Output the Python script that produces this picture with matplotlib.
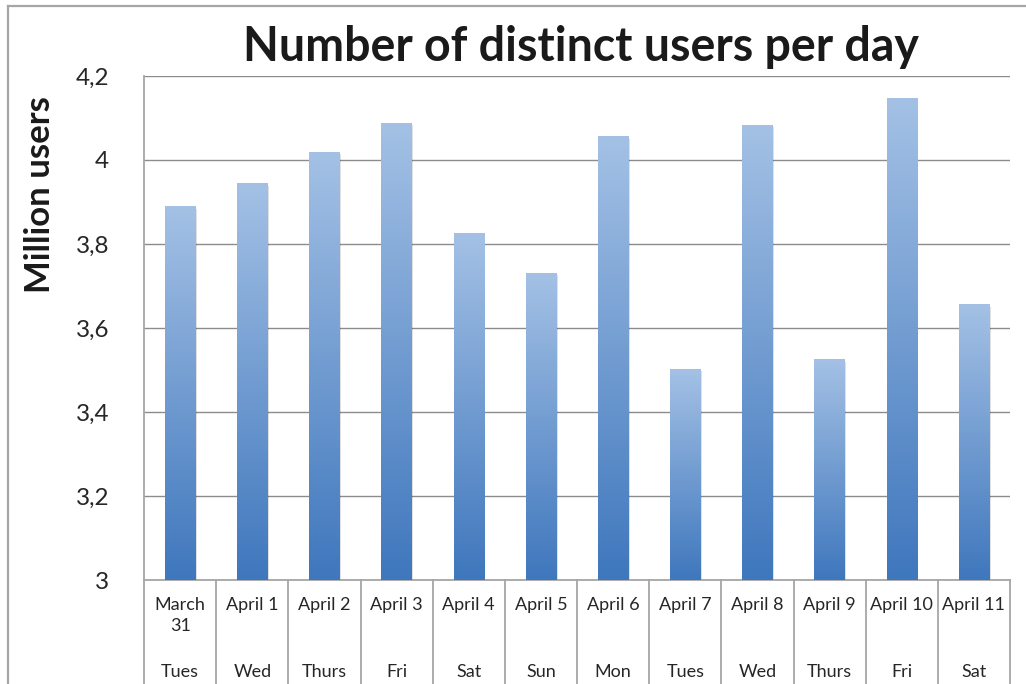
import matplotlib.pyplot as plt
import numpy as np
from matplotlib.colors import LinearSegmentedColormap
from matplotlib.patches import Rectangle

dates = ["March\n31", "April 1", "April 2", "April 3", "April 4", "April 5",
         "April 6", "April 7", "April 8", "April 9", "April 10", "April 11"]
weekdays = ["Tues", "Wed", "Thurs", "Fri", "Sat", "Sun",
            "Mon", "Tues", "Wed", "Thurs", "Fri", "Sat"]
users = [3.888, 3.943, 4.017, 4.086, 3.826, 3.729,
         4.055, 3.502, 4.083, 3.524, 4.145, 3.655]

plt.rcParams['font.family'] = ['Lato', 'DejaVu Sans']
grey = "#a6a6a6"

fig = plt.figure(figsize=(10.26, 6.84), dpi=100)
ax = fig.add_axes([0.1404, 0.152, 0.844, 0.737])

# outer chart border (left and top only visible)
fig.add_artist(plt.Line2D([8 / 1026, 8 / 1026], [0, 1 - 6 / 684], color=grey, lw=1.6))
fig.add_artist(plt.Line2D([8 / 1026, 1], [1 - 6 / 684, 1 - 6 / 684], color=grey, lw=1.6))

x = np.arange(len(users))
width = 0.42
cmap = LinearSegmentedColormap.from_list("bar", ["#3f77bd", "#a4c1e5"])
grad = np.linspace(0, 1, 256).reshape(-1, 1)

bars = ax.bar(x, np.array(users) - 3, bottom=3, width=width, color="none", zorder=3)
for b in bars:
    x0, y0 = b.get_x(), b.get_y()
    w, h = b.get_width(), b.get_height()
    # soft shadow to the right
    ax.add_patch(Rectangle((x0 + 0.02, y0), w, h - 0.004, color="#000000",
                           alpha=0.12, zorder=2, lw=0))
    ax.imshow(grad, cmap=cmap, origin="lower", aspect="auto",
              extent=(x0, x0 + w, y0, y0 + h), zorder=4)

ax.set_xlim(-0.5, len(users) - 0.5)
ax.set_ylim(3, 4.2)

ax.set_yticks(np.arange(3, 4.21, 0.2))
ax.set_yticklabels(["3", "3,2", "3,4", "3,6", "3,8", "4", "4,2"], fontsize=17.5, color="#262626")
ax.yaxis.grid(True, color="#8c8c8c", lw=1.0, zorder=0)
ax.set_axisbelow(True)
ax.tick_params(axis="y", length=0, pad=25)
ax.tick_params(axis="x", length=0, labelbottom=False)

for s in ["top", "right"]:
    ax.spines[s].set_visible(False)
ax.spines["left"].set_color(grey)
ax.spines["bottom"].set_color(grey)
ax.spines["left"].set_linewidth(1.3)
ax.spines["bottom"].set_linewidth(1.3)

# category separators below the axis
for b in np.arange(-0.5, len(users), 1.0):
    ax.plot([b, b], [0, -0.21], color=grey, lw=1.3, clip_on=False,
            transform=ax.get_xaxis_transform())

for xi, d, w in zip(x, dates, weekdays):
    ax.text(xi, -0.034, d, ha="center", va="top", fontsize=13, color="#262626",
            linespacing=1.35, transform=ax.get_xaxis_transform())
    ax.text(xi, -0.183, w, ha="center", va="center", fontsize=13, color="#262626",
            transform=ax.get_xaxis_transform())

fig.text(0.566, 0.932, "Number of distinct users per day", ha="center", va="center",
         fontsize=33.5, fontweight="bold", color="#1a1a1a")
fig.text(0.039, 0.715, "Million users", ha="center", va="center", rotation=90,
         fontsize=25, fontweight="bold", color="#1a1a1a")

fig.savefig("out.png", dpi=100)
